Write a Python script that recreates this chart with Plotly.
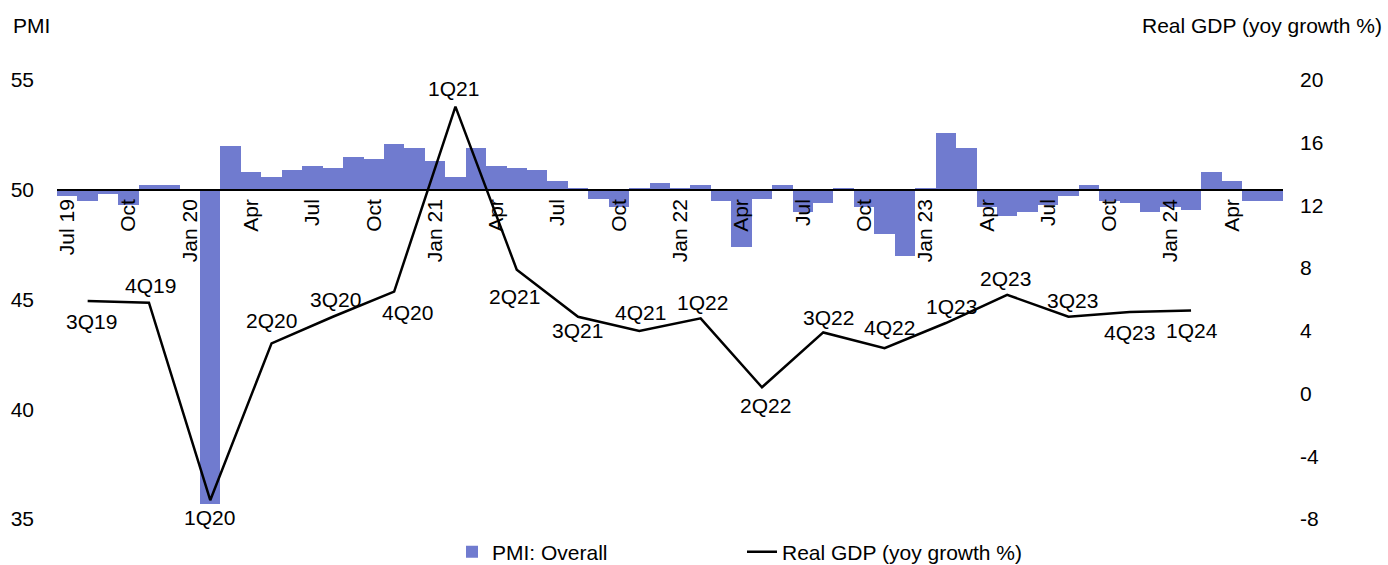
import pandas as pd
import plotly.graph_objects as go

# Monthly PMI (overall), Jul 2019 - Jun 2024
months = [p.strftime("%b %Y") for p in pd.period_range("2019-07", "2024-06", freq="M")]
pmi = [49.7, 49.5, 49.8, 49.3, 50.2, 50.2,
       50.0, 35.7, 52.0, 50.8, 50.6, 50.9, 51.1, 51.0, 51.5, 51.4, 52.1, 51.9,
       51.3, 50.6, 51.9, 51.1, 51.0, 50.9, 50.4, 50.1, 49.6, 49.2, 50.1, 50.3,
       50.1, 50.2, 49.5, 47.4, 49.6, 50.2, 49.0, 49.4, 50.1, 49.2, 48.0, 47.0,
       50.1, 52.6, 51.9, 49.2, 48.8, 49.0, 49.3, 49.7, 50.2, 49.5, 49.4, 49.0,
       49.2, 49.1, 50.8, 50.4, 49.5, 49.5]

# Quarterly real GDP, yoy growth %
quarters = ["3Q19", "4Q19", "1Q20", "2Q20", "3Q20", "4Q20", "1Q21", "2Q21", "3Q21",
            "4Q21", "1Q22", "2Q22", "3Q22", "4Q22", "1Q23", "2Q23", "3Q23", "4Q23", "1Q24"]
gdp = [5.9, 5.8, -6.8, 3.2, 4.9, 6.5, 18.3, 7.9, 4.9,
       4.0, 4.8, 0.4, 3.9, 2.9, 4.5, 6.3, 4.9, 5.2, 5.3]

tick_labels = ["Jul 19", "Oct", "Jan 20", "Apr", "Jul", "Oct", "Jan 21", "Apr", "Jul", "Oct",
               "Jan 22", "Apr", "Jul", "Oct", "Jan 23", "Apr", "Jul", "Oct", "Jan 24", "Apr"]
gdp_ticks = [-8, -4, 0, 4, 8, 12, 16, 20]

# Pixel offsets (dx, dy) of each quarter label relative to its point
label_offsets = [(4, 20), (2, -17), (-1, 17), (0, -23), (3, -17), (13, 21), (-2, -18),
                 (-2, 27), (-1, 14), (1, -18), (2, -16), (4, 18), (5, -15), (5, -21),
                 (6, -17), (-2, -16), (4, -16), (0, 20), (1, 20)]


def mid_month(q):
    """Middle month of a quarter such as '3Q19' -> 'Aug 2019'."""
    qn, yy = int(q[0]), int(q[2:])
    return pd.Period(year=2000 + yy, month=3 * (qn - 1) + 2, freq="M").strftime("%b %Y")


gdp_x = [mid_month(q) for q in quarters]
tick_vals = months[::3]

FONT = "Liberation Sans, Arial, sans-serif"
FS = 21
BAR_COLOR = "#707bcf"
BASE = 50

fig = go.Figure()
fig.add_trace(go.Bar(
    x=months, y=[v - BASE for v in pmi], base=BASE,
    marker=dict(color=BAR_COLOR, line=dict(width=0)),
    name="PMI: Overall", yaxis="y",
))
fig.add_trace(go.Scatter(
    x=gdp_x, y=gdp, mode="lines",
    line=dict(color="black", width=2.5),
    name="Real GDP (yoy growth %)", yaxis="y2",
))

text_font = dict(size=FS, color="black", family=FONT)

annotations = []
for q, xq, v, (dx, dy) in zip(quarters, gdp_x, gdp, label_offsets):
    annotations.append(dict(
        x=xq, y=v, xref="x", yref="y2", text=q, showarrow=False,
        xshift=dx, yshift=-dy, font=text_font,
    ))

annotations.append(dict(
    text="PMI", xref="paper", yref="paper", x=-46 / 1226, y=(519 - 26) / 439,
    xanchor="left", yanchor="middle", showarrow=False, font=text_font,
))
annotations.append(dict(
    text="Real GDP (yoy growth %)", xref="paper", yref="paper", x=(1384 - 57) / 1226,
    y=(519 - 26) / 439, xanchor="right", yanchor="middle", showarrow=False,
    font=text_font,
))

fig.update_layout(
    width=1388, height=565,
    margin=dict(l=57, r=105, t=80, b=46, autoexpand=False),
    paper_bgcolor="white", plot_bgcolor="white",
    font=dict(family=FONT, size=FS, color="black"),
    bargap=0,
    showlegend=True,
    legend=dict(
        orientation="h", x=(452 - 57) / 1226, xanchor="left",
        y=-(552 - 519) / 439, yanchor="middle",
        font=text_font,
        entrywidth=245, entrywidthmode="pixels",
        bgcolor="rgba(0,0,0,0)",
    ),
    xaxis=dict(
        type="category", range=[-0.5, len(months) - 0.5],
        anchor="free", position=(BASE - 35) / (55 - 35),
        showline=True, linecolor="black", linewidth=2,
        showgrid=False, zeroline=False, ticks="",
        tickmode="array", tickvals=tick_vals, ticktext=tick_labels,
        tickangle=-90, tickfont=text_font,
    ),
    yaxis=dict(
        range=[35, 55], dtick=5, showgrid=False, zeroline=False, showline=False,
        ticks="", ticklabelstandoff=22, tickfont=text_font,
    ),
    yaxis2=dict(
        range=[-8, 20], overlaying="y", side="right",
        tickmode="array", tickvals=gdp_ticks, ticktext=[str(t) for t in gdp_ticks],
        showgrid=False, zeroline=False, showline=False,
        ticks="", ticklabelstandoff=16, tickfont=text_font,
    ),
    annotations=annotations,
)

fig.write_html("out.html")
